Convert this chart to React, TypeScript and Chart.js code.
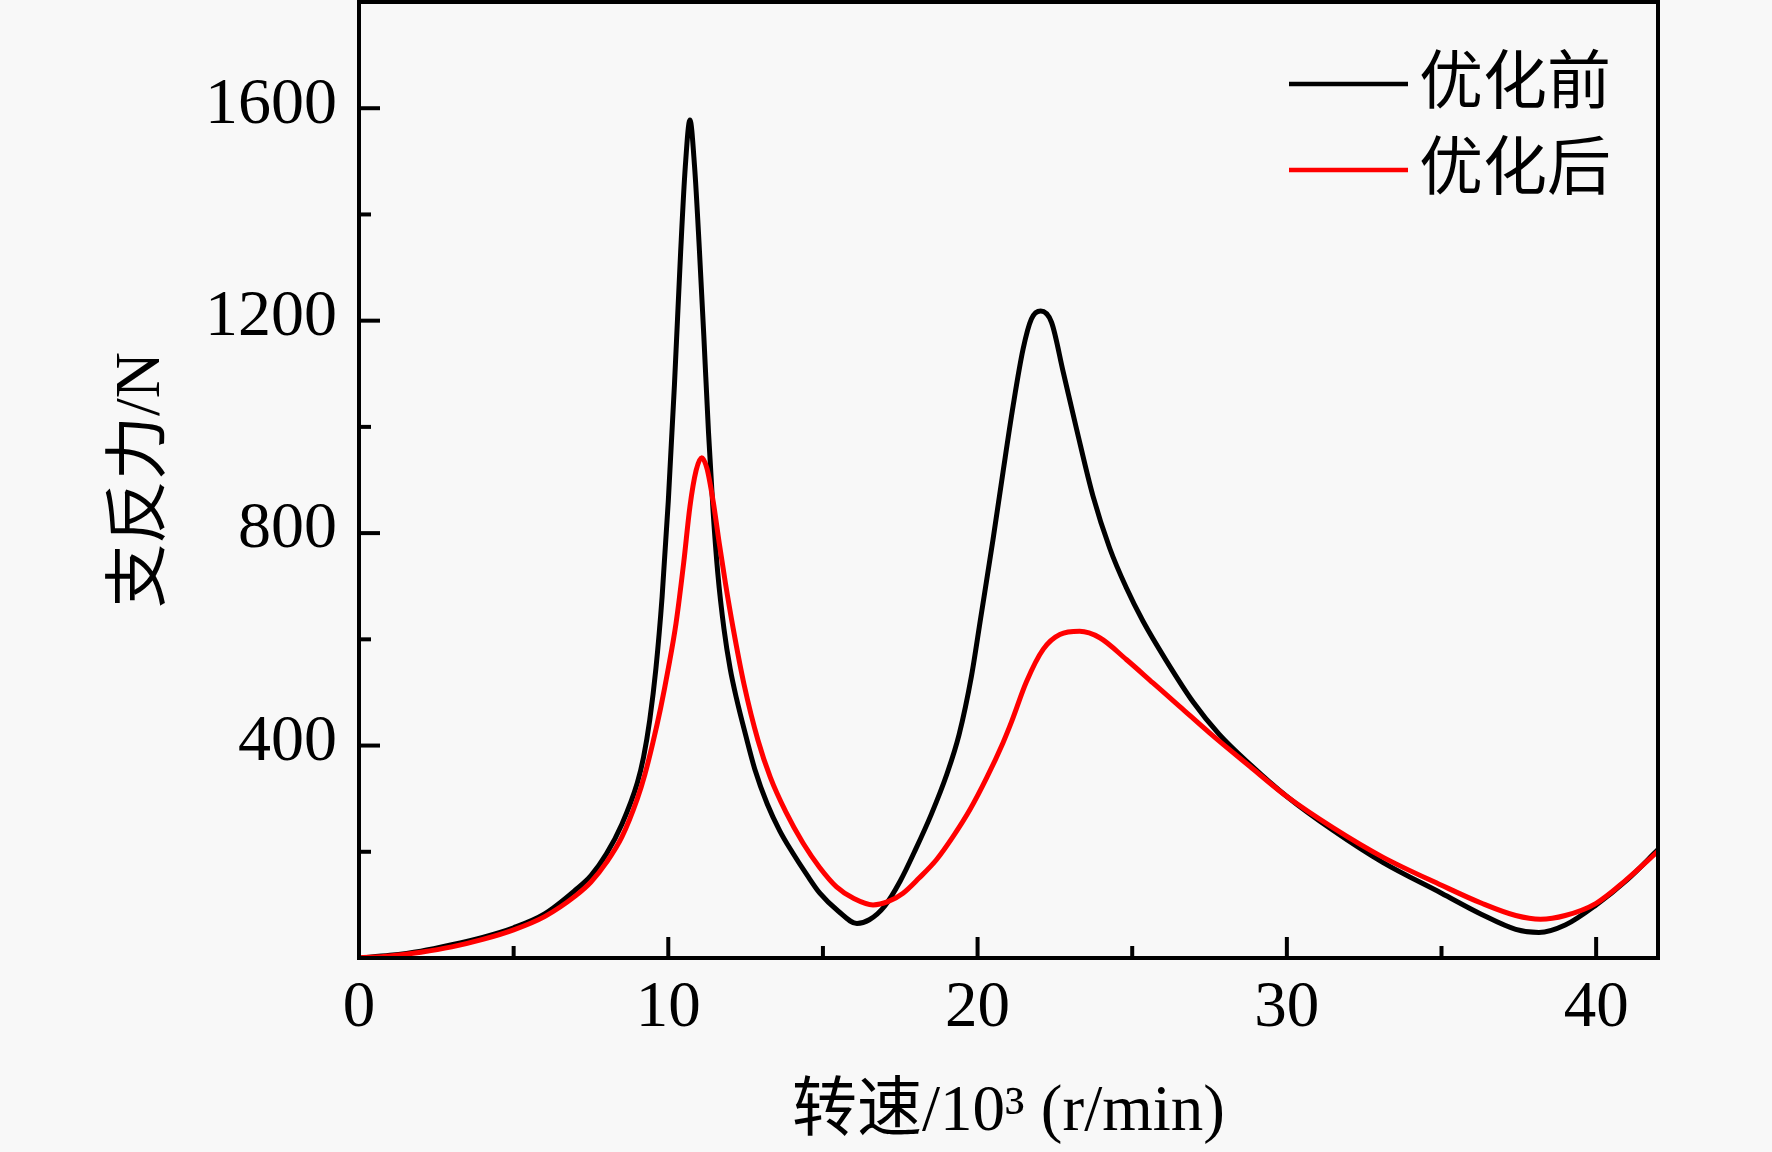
import React, { useEffect, useRef } from "react";
import { Chart, registerables } from "chart.js";

Chart.register(...registerables);

// 优化前 (black)
const beforeSpeed = [
  0, 1, 2, 3, 4, 5, 6, 7, 7.5, 8, 8.5, 9, 9.2, 9.4, 9.6, 9.8, 10.0, 10.2, 10.4,
  10.55, 10.7, 10.85, 11.0, 11.15, 11.3, 11.45, 11.6, 11.8, 12.0, 12.2, 12.5,
  12.8, 13.2, 13.6, 14.0, 14.5, 14.9, 15.5, 16.1, 16.5, 17.0, 17.5, 18.0, 18.5,
  19.0, 19.4, 19.8, 20.1, 20.5, 20.82, 21.15, 21.47, 21.74, 22.04, 22.39,
  22.77, 23.2, 23.73, 24.27, 24.81, 25.35, 26.1, 26.97, 27.8, 28.8, 30, 31.5,
  33.1, 35, 36.3, 37.4, 38.15, 39, 40, 41, 42,
];
const beforeForce = [
  0, 5, 13, 25, 39, 57, 83, 128, 155, 196, 252, 330, 378, 448, 545, 680, 860,
  1080, 1330, 1490, 1578, 1490, 1340, 1170, 990, 840, 725, 620, 545, 490, 420,
  355, 290, 240, 200, 155, 122, 88, 65, 72, 98, 145, 205, 270, 345, 420, 530,
  640, 788, 914, 1040, 1146, 1203, 1218, 1197, 1103, 996, 870, 772, 697, 634,
  560, 482, 422, 365, 304, 240, 180, 122, 82, 54, 48, 62, 100, 147, 204,
];

// 优化后 (red)
const afterSpeed = [
  0, 1, 2, 3, 4, 5, 6, 7, 7.5, 8, 8.5, 9, 9.24, 9.5, 9.75, 10.0, 10.25, 10.5,
  10.7, 10.9, 11.08, 11.25, 11.45, 11.65, 11.85, 12.1, 12.45, 12.9, 13.3, 13.8,
  14.36, 14.9, 15.44, 16.0, 16.62, 17.1, 17.59, 18.1, 18.67, 19.2, 19.75, 20.3,
  20.82, 21.1, 21.58, 22.12, 22.66, 23.3, 23.95, 24.81, 25.67, 26.53, 27.5,
  28.8, 30, 31.5, 33.1, 35, 36.3, 37.4, 38.2, 39.0, 40, 40.97, 42,
];
const afterForce = [
  0, 4, 11, 21, 35, 53, 78, 117, 143, 180, 228, 300, 345, 405, 470, 545, 630,
  745, 850, 918, 942, 922, 860, 780, 705, 620, 515, 410, 340, 275, 216, 170,
  134, 112, 100, 106, 122, 150, 185, 228, 279, 340, 405, 445, 520, 581, 609,
  615, 603, 562, 518, 474, 424, 361, 304, 245, 190, 137, 103, 80, 73, 80, 103,
  147, 201,
];

const xLabelled = [0, 10, 20, 30, 40];
const yLabelled = [400, 800, 1200, 1600];

const serif = "'Liberation Serif', 'Noto Sans CJK SC', serif";

const frameTicks = {
  id: "frameTicks",
  afterDatasetsDraw(chart: any) {
    const { ctx, chartArea, scales } = chart;
    const { left, right, top, bottom } = chartArea;
    ctx.save();
    ctx.strokeStyle = "#000";
    ctx.lineWidth = 4;

    // inward tick marks
    scales.x.ticks.forEach((t: any) => {
      const px = scales.x.getPixelForValue(t.value);
      const len = xLabelled.includes(t.value) ? 21 : 12;
      ctx.beginPath();
      ctx.moveTo(px, bottom);
      ctx.lineTo(px, bottom - len);
      ctx.stroke();
    });
    scales.y.ticks.forEach((t: any) => {
      if (t.value <= 0 || t.value >= 1800) return;
      const py = scales.y.getPixelForValue(t.value);
      const len = yLabelled.includes(t.value) ? 21 : 12;
      ctx.beginPath();
      ctx.moveTo(left, py);
      ctx.lineTo(left + len, py);
      ctx.stroke();
    });

    ctx.strokeRect(left, top, right - left, bottom - top);

    // legend in the top right corner
    const rows = [
      { y: 84, text: chart.data.datasets[1].label, color: chart.data.datasets[1].borderColor },
      { y: 170, text: chart.data.datasets[0].label, color: chart.data.datasets[0].borderColor },
    ];
    ctx.font = "64px 'Noto Sans CJK SC', sans-serif";
    ctx.textBaseline = "middle";
    ctx.textAlign = "left";
    ctx.fillStyle = "#000";
    ctx.lineWidth = 4.5;
    rows.forEach((r) => {
      ctx.strokeStyle = r.color;
      ctx.beginPath();
      ctx.moveTo(1289, r.y);
      ctx.lineTo(1408, r.y);
      ctx.stroke();
      ctx.fillText(r.text, 1419, r.y - 5);
    });
    ctx.restore();
  },
};

const App: React.FC = () => {
  const chartRef = useRef<HTMLCanvasElement>(null);
  const chartInstance = useRef<Chart | null>(null);

  useEffect(() => {
    if (!chartRef.current) return;
    if (chartInstance.current) chartInstance.current.destroy();
    const ctx = chartRef.current.getContext("2d");
    if (!ctx) return;

    chartInstance.current = new Chart(ctx, {
      type: "line",
      data: {
        datasets: [
          {
            label: "优化后",
            data: afterSpeed.map((s, i) => ({ x: s, y: afterForce[i] })),
            borderColor: "#ff0000",
            borderWidth: 5,
            pointRadius: 0,
            cubicInterpolationMode: "monotone",
            order: 0,
          },
          {
            label: "优化前",
            data: beforeSpeed.map((s, i) => ({ x: s, y: beforeForce[i] })),
            borderColor: "#000000",
            borderWidth: 5,
            pointRadius: 0,
            cubicInterpolationMode: "monotone",
            order: 1,
          },
        ],
      },
      options: {
        animation: false,
        responsive: true,
        maintainAspectRatio: false,
        layout: { padding: { top: 2, right: 114, bottom: 0, left: 0 } },
        plugins: {
          legend: { display: false },
          tooltip: { enabled: false },
        },
        scales: {
          x: {
            type: "linear",
            min: 0,
            max: 42,
            grid: { display: false, drawTicks: false },
            border: { display: false },
            ticks: {
              stepSize: 5,
              includeBounds: false,
              autoSkip: false,
              maxRotation: 0,
              padding: 12,
              color: "#000",
              font: { family: serif, size: 65 },
              callback: (v: any) => (xLabelled.includes(v) ? String(v) : ""),
            },
            title: {
              display: true,
              text: "转速/10³ (r/min)",
              color: "#000",
              font: { family: serif, size: 65 },
              padding: { top: 0, bottom: 0 },
            },
            afterFit: (scale: any) => {
              scale.height = 194;
              scale.paddingLeft = 0;
              scale.paddingRight = 0;
            },
          },
          y: {
            min: 0,
            max: 1800,
            grid: { display: false, drawTicks: false },
            border: { display: false },
            ticks: {
              stepSize: 200,
              autoSkip: false,
              padding: 22,
              labelOffset: -3,
              color: "#000",
              font: { family: serif, size: 66 },
              callback: (v: any) => (yLabelled.includes(v) ? String(v) : ""),
            },
            title: {
              display: true,
              text: "支反力/N",
              color: "#000",
              font: { family: serif, size: 64 },
              padding: { top: 104, bottom: 0 },
            },
            afterFit: (scale: any) => {
              scale.width = 359;
              scale.paddingTop = 0;
              scale.paddingBottom = 0;
            },
          },
        },
      },
      plugins: [frameTicks],
    });

    return () => {
      if (chartInstance.current) {
        chartInstance.current.destroy();
        chartInstance.current = null;
      }
    };
  }, []);

  return (
    <div
      style={{
        position: "fixed",
        left: 0,
        top: 0,
        width: 1772,
        height: 1152,
        background: "#f8f8f8",
      }}
    >
      <canvas ref={chartRef}></canvas>
    </div>
  );
};

export default App;
